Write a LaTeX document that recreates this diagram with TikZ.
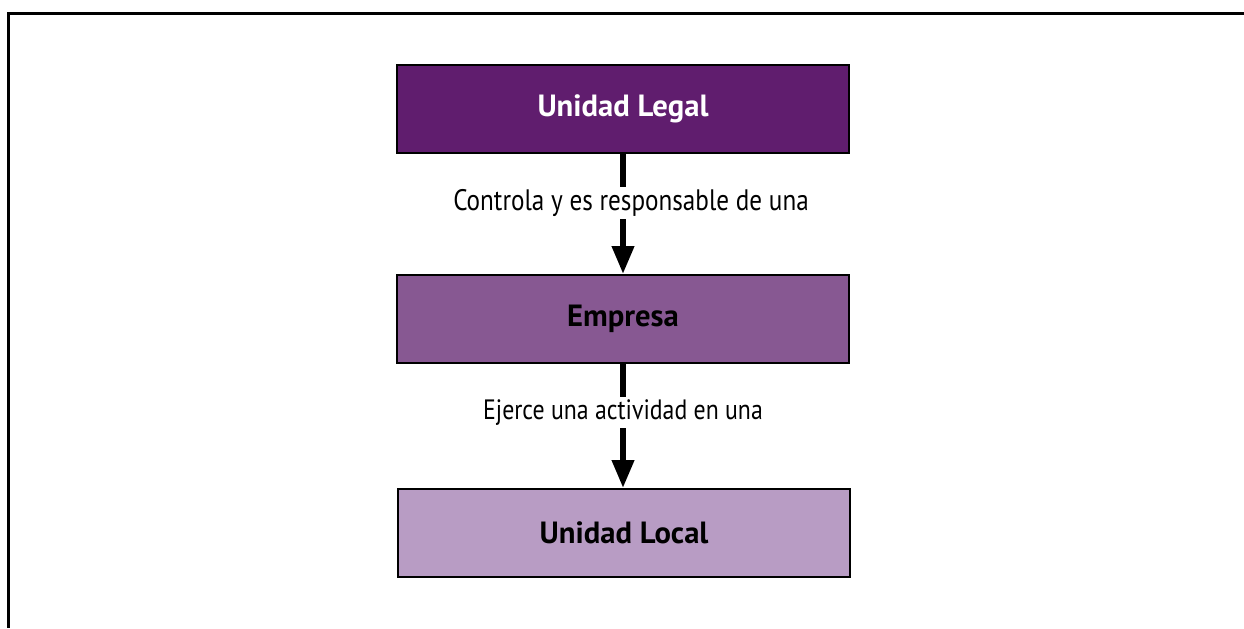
\documentclass[tikz,border=0pt]{standalone}
\usepackage{fontspec}
\setmainfont{PT Sans}
\newfontfamily\linkfont[FakeStretch=0.85]{PT Sans}
\usetikzlibrary{arrows.meta,positioning}

\definecolor{legalpurple}{RGB}{96,29,110}
\definecolor{empresapurple}{RGB}{135,88,146}
\definecolor{localpurple}{RGB}{184,156,196}

\tikzset{
  unitbox/.style={draw=black, line width=1.5pt, minimum width=339pt, minimum height=66pt,
    inner sep=0pt, font=\fontsize{23}{27}\selectfont\bfseries},
  relation/.style={line width=4.5pt, -{Triangle[length=21pt,width=16pt]}},
  relabel/.style={fill=white, inner sep=2pt, font=\linkfont\fontsize{21}{25}\selectfont},
}

\begin{document}
\begin{tikzpicture}[x=0.75pt,y=-0.75pt]
\useasboundingbox (0,0) rectangle (1244,628);
% open frame
\draw[line width=2.25pt] (1244,13) -| (8,628);

% units
\node[unitbox, fill=legalpurple, text=white] (legal) at (623,109) {Unidad Legal};
\node[unitbox, fill=empresapurple] (empresa) at (623,319) {Empresa};
\node[unitbox, fill=localpurple] (local) at (624,533) {Unidad Local};

% relations
\draw[relation] (legal.south -| 623,0) -- (empresa.north -| 623,0)
  node[relabel, pos=0.41, xshift=6pt, font=\linkfont\fontsize{22.2}{26}\selectfont] {Controla y es responsable de una};
\draw[relation] (empresa.south -| 623,0) -- (local.north -| 623,0)
  node[relabel, pos=0.39] {Ejerce una actividad en una};
\end{tikzpicture}
\end{document}
